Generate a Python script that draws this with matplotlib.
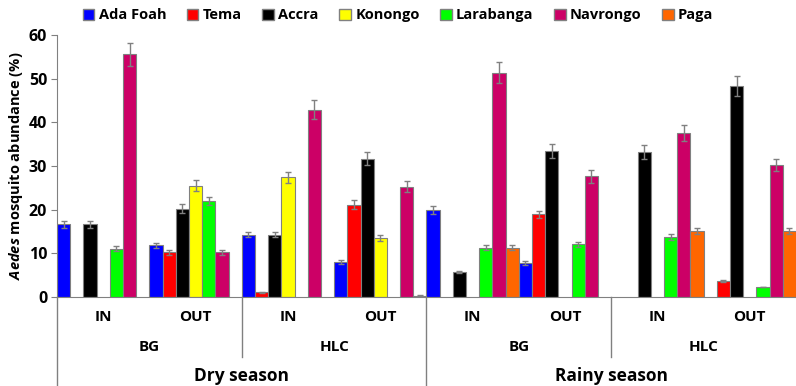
import numpy as np
import matplotlib
matplotlib.use("Agg")
import matplotlib.pyplot as plt
from matplotlib.patches import Patch
from matplotlib.transforms import blended_transform_factory

# ── DATA ────────────────────────────────────────────────────────────────────
sites = ["Ada Foah", "Tema", "Accra", "Konongo", "Larabanga", "Navrongo", "Paga"]
site_colors = ["#0000FF", "#FF0000", "#000000", "#FFFF00", "#00FF00", "#CC0066", "#FF6600"]

groups = ["Dry BG IN", "Dry BG OUT", "Dry HLC IN", "Dry HLC OUT",
          "Rainy BG IN", "Rainy BG OUT", "Rainy HLC IN", "Rainy HLC OUT"]
loc_labels = ["IN", "OUT", "IN", "OUT", "IN", "OUT", "IN", "OUT"]
method_labels = ["BG", "HLC", "BG", "HLC"]
season_labels = ["Dry season", "Rainy season"]

# abundance (%) per site, one value per group (0 = no bar)
ada_foah  = [16.7, 11.8, 14.3,  8.0, 20.0,  7.8,  0.0,  0.0]
tema      = [ 0.0, 10.2,  1.1, 21.1,  0.0, 18.9,  0.0,  3.7]
accra     = [16.7, 20.2, 14.3, 31.7,  5.7, 33.5, 33.2, 48.4]
konongo   = [ 0.0, 25.5, 27.4, 13.5,  0.0,  0.0,  0.0,  0.0]
larabanga = [11.1, 22.0,  0.0,  0.0, 11.3, 12.1, 13.8,  2.3]
navrongo  = [55.6, 10.2, 42.9, 25.3, 51.4, 27.6, 37.6, 30.3]
paga      = [ 0.0,  0.0,  0.0,  0.3, 11.3,  0.0, 15.2, 15.2]

# error bars
err_ada_foah  = [0.8, 0.6, 0.6, 0.4, 0.9, 0.4, 0.0, 0.0]
err_tema      = [0.0, 0.5, 0.1, 1.0, 0.0, 0.9, 0.0, 0.2]
err_accra     = [0.8, 1.0, 0.6, 1.5, 0.3, 1.6, 1.6, 2.3]
err_konongo   = [0.0, 1.2, 1.3, 0.7, 0.0, 0.0, 0.0, 0.0]
err_larabanga = [0.6, 1.0, 0.0, 0.0, 0.6, 0.6, 0.7, 0.1]
err_navrongo  = [2.6, 0.5, 2.2, 1.2, 2.4, 1.4, 1.8, 1.4]
err_paga      = [0.0, 0.0, 0.0, 0.1, 0.6, 0.0, 0.7, 0.7]

values = [ada_foah, tema, accra, konongo, larabanga, navrongo, paga]
errors = [err_ada_foah, err_tema, err_accra, err_konongo, err_larabanga, err_navrongo, err_paga]

# ── STYLE ───────────────────────────────────────────────────────────────────
plt.rcParams["font.family"] = ["Open Sans", "DejaVu Sans"]
plt.rcParams["font.weight"] = "bold"
plt.rcParams["mathtext.fontset"] = "custom"
plt.rcParams["mathtext.it"] = "Open Sans:italic:bold"
plt.rcParams["mathtext.rm"] = "Open Sans:bold"

GRAY = "#808080"

fig = plt.figure(figsize=(7.96, 3.86), dpi=100)
ax = fig.add_axes([0.0716, 0.2306, 0.9284, 0.6787])

n_sites = len(sites)
w = 1.0 / n_sites
for i, (vals, errs, col, name) in enumerate(zip(values, errors, site_colors, sites)):
    vals = np.array(vals); errs = np.array(errs)
    x = np.arange(len(groups)) + (i + 0.5) * w
    m = vals > 0
    ax.bar(x[m], vals[m], width=w, color=col, edgecolor=GRAY, linewidth=0.8,
           yerr=errs[m], error_kw=dict(ecolor=GRAY, elinewidth=1, capsize=2.5, capthick=1),
           label=name, zorder=2)

ax.set_xlim(0, len(groups))
ax.set_ylim(0, 60)
ax.set_yticks(np.arange(0, 61, 10))
ax.tick_params(axis="y", labelsize=11.5, length=4, color=GRAY, pad=3)
ax.set_xticks([])
for s in ["top", "right"]:
    ax.spines[s].set_visible(False)
for s in ["left", "bottom"]:
    ax.spines[s].set_color(GRAY)

ax.set_ylabel(r"$\it{Aedes}$ mosquito abundance (%)", fontsize=10.5, fontweight="bold", labelpad=3)

# ── MULTI-LEVEL CATEGORY AXIS ───────────────────────────────────────────────
tr = blended_transform_factory(ax.transData, ax.transAxes)
for g, lab in enumerate(loc_labels):
    ax.text(g + 0.5, -0.077, lab, transform=tr, ha="center", va="center", fontsize=11)
for k, lab in enumerate(method_labels):
    ax.text(2 * k + 1, -0.19, lab, transform=tr, ha="center", va="center", fontsize=11)
for k, lab in enumerate(season_labels):
    ax.text(4 * k + 2, -0.3, lab, transform=tr, ha="center", va="center", fontsize=12.5)

# separator lines
for xs in [2, 6]:
    ax.plot([xs, xs], [0, -0.228], transform=tr, color=GRAY, lw=1, clip_on=False)
for xs in [0, 4]:
    ax.plot([xs, xs], [0, -0.36], transform=tr, color=GRAY, lw=1, clip_on=False)

# ── LEGEND ──────────────────────────────────────────────────────────────────
handles = [Patch(facecolor=c, edgecolor=GRAY, label=s) for s, c in zip(sites, site_colors)]
fig.legend(handles=handles, loc="upper center", bbox_to_anchor=(0.5, 1.012), ncol=7,
           frameon=False, fontsize=10.5, handlelength=0.8, handleheight=0.8,
           handletextpad=0.3, columnspacing=1.4)

plt.savefig("out.png", dpi=100)
